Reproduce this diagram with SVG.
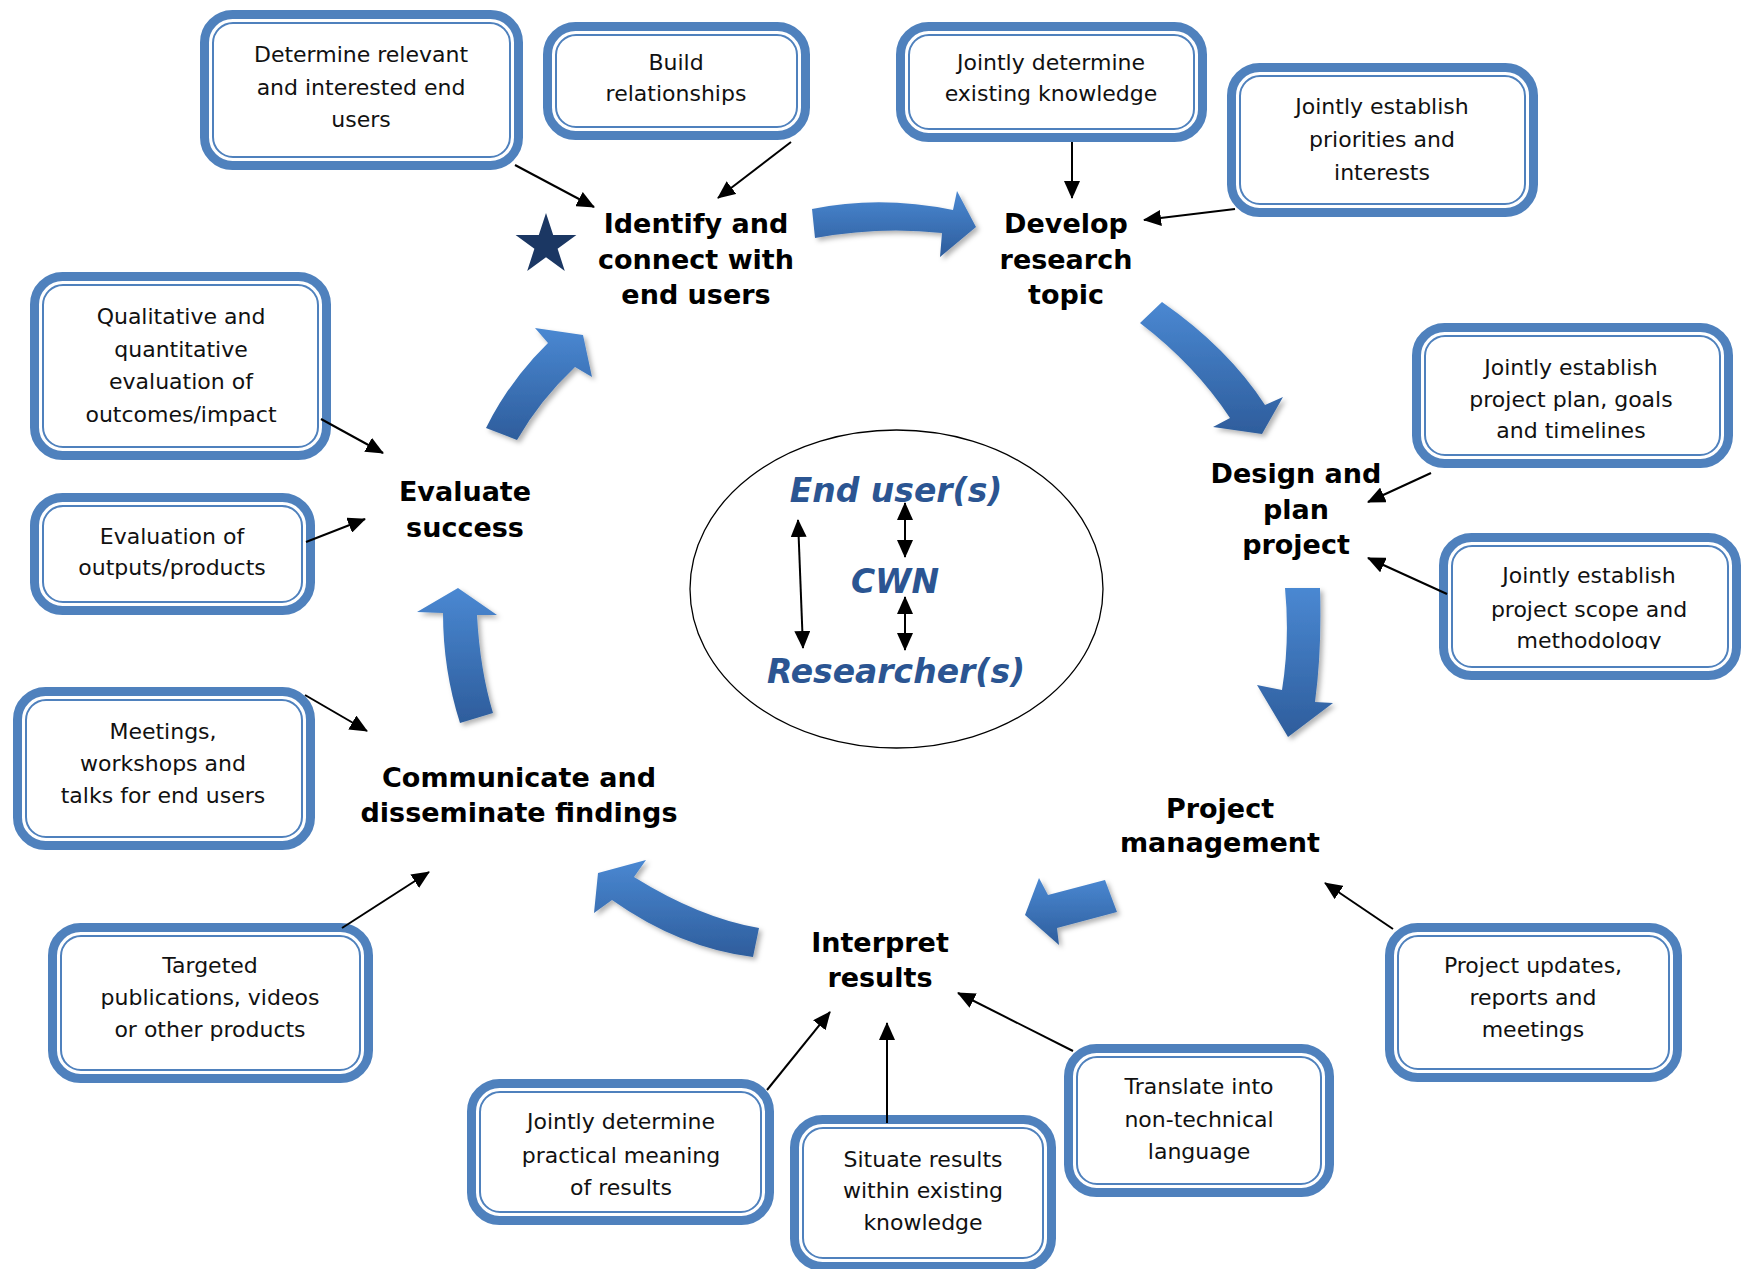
<svg xmlns="http://www.w3.org/2000/svg" width="1743" height="1269" viewBox="0 0 1743 1269">
<style>
.bo{fill:#fff;stroke:#4F81BD;stroke-width:9}
.bi{fill:none;stroke:#4F81BD;stroke-width:2}
.t{font-family:"DejaVu Sans",sans-serif;font-size:22px;fill:#111;text-anchor:middle}
.s{font-family:"DejaVu Sans",sans-serif;font-size:27px;font-weight:bold;fill:#000;text-anchor:middle}
.c{font-family:"DejaVu Sans",sans-serif;font-size:33px;font-weight:bold;font-style:italic;fill:#2B5592;text-anchor:middle}
.ln{stroke:#000;stroke-width:2;fill:none;marker-end:url(#ah)}
.dl{stroke:#000;stroke-width:2;fill:none;marker-end:url(#ah);marker-start:url(#ahs)}
.ba{fill:url(#bg);filter:url(#sh)}
</style>
<defs>
<marker id="ah" markerUnits="userSpaceOnUse" markerWidth="18" markerHeight="16" refX="17" refY="8" orient="auto"><path d="M0,0 L18,8 L0,16 Z" fill="#000"/></marker>
<marker id="ahs" markerUnits="userSpaceOnUse" markerWidth="18" markerHeight="16" refX="17" refY="8" orient="auto-start-reverse"><path d="M0,0 L18,8 L0,16 Z" fill="#000"/></marker>
<linearGradient id="bg" x1="0" y1="0" x2="0" y2="1"><stop offset="0" stop-color="#4A88D2"/><stop offset="1" stop-color="#2E5D9C"/></linearGradient>
<filter id="sh" x="-20%" y="-20%" width="140%" height="140%"><feDropShadow dx="3" dy="3" stdDeviation="2.5" flood-color="#000" flood-opacity="0.3"/></filter>
<clipPath id="cl14"><rect x="1452" y="546" width="276" height="103"/></clipPath>
</defs>
<rect width="1743" height="1269" fill="#fff"/>

<g id="box-determine"><rect class="bo" x="204.5" y="14.5" width="314" height="151" rx="28"/><rect class="bi" x="213" y="23" width="297" height="134" rx="20"/>
<text class="t"><tspan x="361" y="62">Determine relevant</tspan><tspan x="361" y="95">and interested end</tspan><tspan x="361" y="127">users</tspan></text></g>
<g id="box-build"><rect class="bo" x="547.5" y="26.5" width="258" height="109" rx="28"/><rect class="bi" x="556" y="35" width="241" height="92" rx="20"/>
<text class="t"><tspan x="676" y="70">Build</tspan><tspan x="676" y="101">relationships</tspan></text></g>
<g id="box-existing"><rect class="bo" x="900.5" y="26.5" width="302" height="111" rx="28"/><rect class="bi" x="909" y="35" width="285" height="94" rx="20"/>
<text class="t"><tspan x="1051" y="70">Jointly determine</tspan><tspan x="1051" y="101">existing knowledge</tspan></text></g>
<g id="box-priorities"><rect class="bo" x="1231.5" y="67.5" width="302" height="145" rx="28"/><rect class="bi" x="1240" y="76" width="285" height="128" rx="20"/>
<text class="t"><tspan x="1382" y="114">Jointly establish</tspan><tspan x="1382" y="147">priorities and</tspan><tspan x="1382" y="180">interests</tspan></text></g>
<g id="box-qualitative"><rect class="bo" x="34.5" y="276.5" width="292" height="179" rx="28"/><rect class="bi" x="43" y="285" width="275" height="162" rx="20"/>
<text class="t"><tspan x="181" y="324">Qualitative and</tspan><tspan x="181" y="357">quantitative</tspan><tspan x="181" y="389">evaluation of</tspan><tspan x="181" y="422">outcomes/impact</tspan></text></g>
<g id="box-outputs"><rect class="bo" x="34.5" y="497.5" width="276" height="113" rx="28"/><rect class="bi" x="43" y="506" width="259" height="96" rx="20"/>
<text class="t"><tspan x="172" y="544">Evaluation of</tspan><tspan x="172" y="575">outputs/products</tspan></text></g>
<g id="box-meetings"><rect class="bo" x="17.5" y="691.5" width="293" height="154" rx="28"/><rect class="bi" x="26" y="700" width="276" height="137" rx="20"/>
<text class="t"><tspan x="163" y="739">Meetings,</tspan><tspan x="163" y="771">workshops and</tspan><tspan x="163" y="803">talks for end users</tspan></text></g>
<g id="box-targeted"><rect class="bo" x="52.5" y="927.5" width="316" height="151" rx="28"/><rect class="bi" x="61" y="936" width="299" height="134" rx="20"/>
<text class="t"><tspan x="210" y="973">Targeted</tspan><tspan x="210" y="1005">publications, videos</tspan><tspan x="210" y="1037">or other products</tspan></text></g>
<g id="box-practical"><rect class="bo" x="471.5" y="1083.5" width="298" height="137" rx="28"/><rect class="bi" x="480" y="1092" width="281" height="120" rx="20"/>
<text class="t"><tspan x="621" y="1129">Jointly determine</tspan><tspan x="621" y="1163">practical meaning</tspan><tspan x="621" y="1195">of results</tspan></text></g>
<g id="box-situate"><rect class="bo" x="794.5" y="1119.5" width="257" height="147" rx="28"/><rect class="bi" x="803" y="1128" width="240" height="130" rx="20"/>
<text class="t"><tspan x="923" y="1167">Situate results</tspan><tspan x="923" y="1198">within existing</tspan><tspan x="923" y="1230">knowledge</tspan></text></g>
<g id="box-translate"><rect class="bo" x="1068.5" y="1048.5" width="261" height="144" rx="28"/><rect class="bi" x="1077" y="1057" width="244" height="127" rx="20"/>
<text class="t"><tspan x="1199" y="1094">Translate into</tspan><tspan x="1199" y="1127">non-technical</tspan><tspan x="1199" y="1159">language</tspan></text></g>
<g id="box-updates"><rect class="bo" x="1389.5" y="927.5" width="288" height="150" rx="28"/><rect class="bi" x="1398" y="936" width="271" height="133" rx="20"/>
<text class="t"><tspan x="1533" y="973">Project updates,</tspan><tspan x="1533" y="1005">reports and</tspan><tspan x="1533" y="1037">meetings</tspan></text></g>
<g id="box-plan"><rect class="bo" x="1416.5" y="327.5" width="312" height="136" rx="28"/><rect class="bi" x="1425" y="336" width="295" height="119" rx="20"/>
<text class="t"><tspan x="1571" y="375">Jointly establish</tspan><tspan x="1571" y="407">project plan, goals</tspan><tspan x="1571" y="438">and timelines</tspan></text></g>
<g id="box-scope"><rect class="bo" x="1443.5" y="537.5" width="293" height="138" rx="28"/><rect class="bi" x="1452" y="546" width="276" height="121" rx="20"/>
<text class="t" clip-path="url(#cl14)"><tspan x="1589" y="583">Jointly establish</tspan><tspan x="1589" y="617">project scope and</tspan><tspan x="1589" y="648">methodology</tspan></text></g>

<g id="stage-identify"><polygon points="546,213 553.2,235.1 576.4,235.1 557.6,248.8 564.8,270.9 546,257.2 527.2,270.9 534.4,248.8 515.6,235.1 538.8,235.1" fill="#1B3763"/>
<text class="s"><tspan x="696" y="233">Identify and</tspan><tspan x="696" y="269">connect with</tspan><tspan x="696" y="304">end users</tspan></text></g>
<g id="stage-develop"><text class="s"><tspan x="1066" y="233">Develop</tspan><tspan x="1066" y="269">research</tspan><tspan x="1066" y="304">topic</tspan></text></g>
<g id="stage-design"><text class="s"><tspan x="1296" y="483">Design and</tspan><tspan x="1296" y="519">plan</tspan><tspan x="1296" y="554">project</tspan></text></g>
<g id="stage-management"><text class="s"><tspan x="1220" y="818">Project</tspan><tspan x="1220" y="852">management</tspan></text></g>
<g id="stage-interpret"><text class="s"><tspan x="880" y="952">Interpret</tspan><tspan x="880" y="987">results</tspan></text></g>
<g id="stage-communicate"><text class="s"><tspan x="519" y="787">Communicate and</tspan><tspan x="519" y="822">disseminate findings</tspan></text></g>
<g id="stage-evaluate"><text class="s"><tspan x="465" y="501">Evaluate</tspan><tspan x="465" y="537">success</tspan></text></g>

<g id="center">
<ellipse cx="896.5" cy="589" rx="206.5" ry="159" fill="#fff" stroke="#000" stroke-width="1.3"/>
<text class="c" x="896" y="502">End user(s)</text>
<text class="c" x="895" y="593">CWN</text>
<text class="c" x="896" y="683">Researcher(s)</text>
</g>

<g id="cycle-arrows">
<path class="ba" d="M812,209 Q880,195 953,210 L957,191 L976,227 L940,257 L942,233 Q880,226 815,238 Z"/>
<path class="ba" d="M1162,302 Q1228,348 1265,405 L1283,397 L1262,434 L1213,427 L1230,418 Q1195,365 1140,323 Z"/>
<path class="ba" d="M1285,588 L1320,588 Q1322,650 1315,702 L1333,703 L1288,737 L1257,685 L1282,690 Q1290,640 1285,588 Z"/>
<path class="ba" d="M1105,880 L1117,912 L1057,928 L1059,945 L1025,915 L1039,878 L1048,895 Z"/>
<path class="ba" d="M759,928 Q700,918 634,877 L646,860 L598,873 L594,913 L612,900 Q680,948 753,957 Z"/>
<path class="ba" d="M460,723 Q443,670 443,613 L417,612 L458,588 L497,615 L477,615 Q480,670 493,713 Z"/>
<path class="ba" d="M486,428 Q510,380 548,343 L535,328 L583,335 L592,377 L575,367 Q540,400 517,440 Z"/>
</g>

<g id="connectors">
<line class="ln" x1="515" y1="165" x2="594" y2="207"/>
<line class="ln" x1="791" y1="142" x2="718" y2="198"/>
<line class="ln" x1="1072" y1="142" x2="1072" y2="198"/>
<line class="ln" x1="1235" y1="209" x2="1144" y2="220"/>
<line class="ln" x1="1431" y1="473" x2="1368" y2="502"/>
<line class="ln" x1="1447" y1="594" x2="1368" y2="558"/>
<line class="ln" x1="321" y1="419" x2="383" y2="453"/>
<line class="ln" x1="306" y1="542" x2="365" y2="519"/>
<line class="ln" x1="305" y1="695" x2="367" y2="731"/>
<line class="ln" x1="342" y1="928" x2="429" y2="872"/>
<line class="ln" x1="767" y1="1090" x2="830" y2="1012"/>
<line class="ln" x1="887" y1="1123" x2="887" y2="1023"/>
<line class="ln" x1="1073" y1="1051" x2="958" y2="993"/>
<line class="ln" x1="1393" y1="929" x2="1325" y2="883"/>
<line class="dl" x1="798" y1="520" x2="803" y2="648"/>
<line class="dl" x1="905" y1="503" x2="905" y2="557"/>
<line class="dl" x1="905" y1="597" x2="905" y2="650"/>
</g>
</svg>
